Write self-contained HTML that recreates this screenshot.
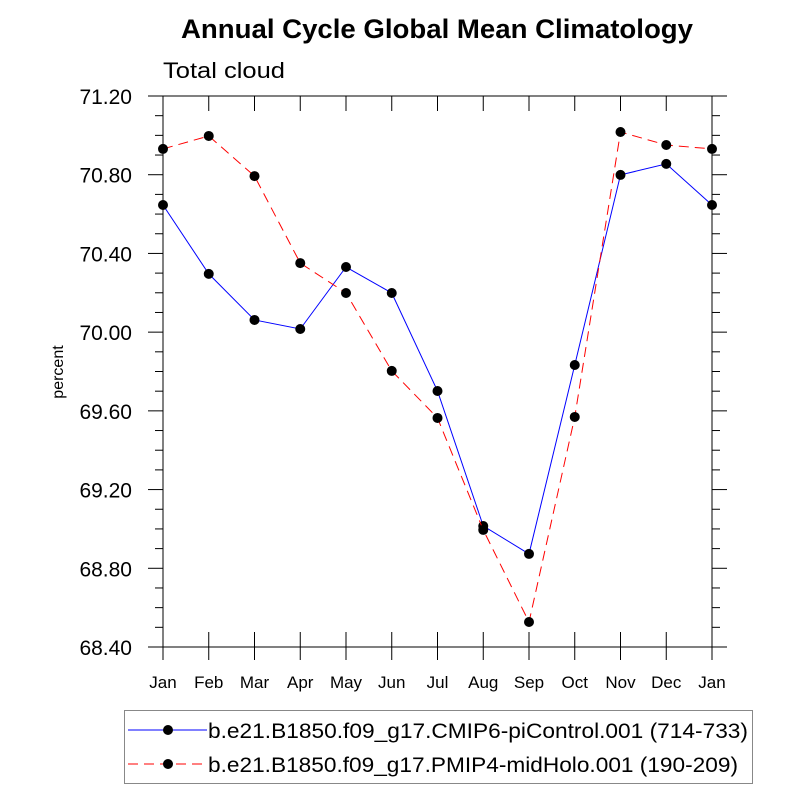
<!DOCTYPE html>
<html><head><meta charset="utf-8"><style>
body{margin:0;background:#fff;}
svg text{font-family:"Liberation Sans",sans-serif;}
</style></head><body>
<svg id="chart" width="800" height="800" viewBox="0 0 800 800" xmlns="http://www.w3.org/2000/svg">
<text x="181" y="38" font-size="27" font-weight="bold" textLength="512" lengthAdjust="spacingAndGlyphs">Annual Cycle Global Mean Climatology</text>
<text x="163" y="78" font-size="22" textLength="122" lengthAdjust="spacingAndGlyphs">Total cloud</text>
<text transform="translate(63,372) rotate(-90)" text-anchor="middle" font-size="16">percent</text>
<g id="axes"></g>
<g id="series"></g>
<g>
<rect x="124.5" y="710.5" width="628" height="73" fill="none" stroke="#888" stroke-width="1"/>
<g>
<line x1="128" y1="730" x2="207" y2="730" stroke="#0000ff" stroke-width="1"/>
<circle cx="168" cy="730" r="5" fill="#000"/>
<text x="208" y="738" font-size="21" textLength="540" lengthAdjust="spacingAndGlyphs">b.e21.B1850.f09_g17.CMIP6-piControl.001 (714-733)</text>
</g>
<g>
<line x1="128" y1="764" x2="207" y2="764" stroke="#ff0000" stroke-width="1" stroke-dasharray="10,6"/>
<circle cx="168" cy="764" r="5" fill="#000"/>
<text x="208" y="772" font-size="21" textLength="530" lengthAdjust="spacingAndGlyphs">b.e21.B1850.f09_g17.PMIP4-midHolo.001 (190-209)</text>
</g>
</g>
</svg>
<script>
const months = ["Jan","Feb","Mar","Apr","May","Jun","Jul","Aug","Sep","Oct","Nov","Dec","Jan"];
const piControl = [70.646,70.296,70.062,70.016,70.331,70.199,69.701,69.015,68.873,69.833,70.799,70.855,70.646];
const midHolo = [70.931,70.997,70.793,70.351,70.199,69.803,69.564,68.995,68.527,69.569,71.017,70.951,70.931];
const yTicks = ["68.40","68.80","69.20","69.60","70.00","70.40","70.80","71.20"];

const NS="http://www.w3.org/2000/svg";
const L=163,R=712,T=96,B=647,yMin=68.4,yMax=71.2;
const xs=i=>L+(R-L)*i/(months.length-1);
const ys=v=>B-(B-T)*(v-yMin)/(yMax-yMin);
function mk(tag,attrs,parent){const e=document.createElementNS(NS,tag);for(const k in attrs)e.setAttribute(k,attrs[k]);parent.appendChild(e);return e;}
const ax=document.getElementById('axes');
const frame=mk('rect',{x:L,y:T,width:R-L,height:B-T,fill:'none',stroke:'#000','stroke-width':1},ax);


months.forEach((m,i)=>{
  const x=xs(i);
  mk('line',{x1:x,y1:B-15,x2:x,y2:B+13,stroke:'#000'},ax);
  mk('line',{x1:x,y1:T,x2:x,y2:T+15,stroke:'#000'},ax);
  const t=mk('text',{x:x,y:B+41,'text-anchor':'middle','font-size':17},ax);
  t.textContent=m;
  
  
});
for(let k=0;k<=28;k++){
  const v=yMin+k*0.1,y=ys(v),major=k%4===0;
  const len=major?15:8;
  mk('line',{x1:L-len,y1:y,x2:L,y2:y,stroke:'#000'},ax);
  mk('line',{x1:R,y1:y,x2:R+len,y2:y,stroke:'#000'},ax);
}
yTicks.forEach(s=>{
  const y=ys(parseFloat(s));
  const t=mk('text',{x:L-31,y:y+8,'text-anchor':'end','font-size':21},ax);
  t.textContent=s;
  
  
});
const sg=document.getElementById('series');
function draw(vals,color,dash,name){
  const pts=vals.map((v,i)=>xs(i)+','+ys(v)).join(' ');
  const pl=mk('polyline',{points:pts,fill:'none',stroke:color,'stroke-width':1,'stroke-dasharray':dash},sg);
  
  
  vals.forEach((v,i)=>{
    const c=mk('circle',{cx:xs(i),cy:ys(v),r:5,fill:'#000'},sg);
    
    
  });
}
draw(piControl,'#0000ff','none','picontrol');
draw(midHolo,'#ff0000','10,6','midholo');
</script>
</body></html>
